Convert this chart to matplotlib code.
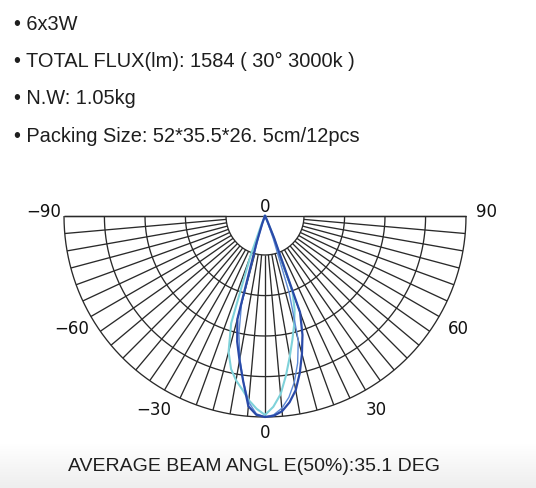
import numpy as np
import matplotlib.pyplot as plt
from matplotlib.colors import LinearSegmentedColormap

W, H, DPI = 536, 489, 100

# spec text
spec_lines = [
    "6x3W",
    "TOTAL FLUX(lm): 1584 ( 30° 3000k )",
    "N.W: 1.05kg",
    "Packing Size: 52*35.5*26. 5cm/12pcs",
]
caption = "AVERAGE BEAM ANGL E(50%):35.1 DEG"

# polar grid
ring_levels = [0.194, 0.396, 0.597, 0.799, 1.0]
spoke_angles = np.arange(-90, 91, 5)
label_angles = [-90, -60, -30, 0, 30, 60, 90]

# light distribution, relative intensity vs angle (deg, 0 = straight down)
angles = [-30, -27.5, -25, -22.5, -20, -17.5, -15, -12.5, -10, -7.5, -5, -2.5, 0,
          2.5, 5, 7.5, 10, 12.5, 15, 17.5, 20, 22.5, 25, 27.5, 30]
c0 = [0, 0, 0, 0.01, 0.04, 0.14, 0.53, 0.64, 0.73, 0.83, 0.95, 0.99, 1.0,
      0.995, 0.975, 0.935, 0.88, 0.80, 0.71, 0.62, 0.51, 0.12, 0.03, 0.01, 0]
c45 = [0, 0, 0, 0.01, 0.03, 0.10, 0.45, 0.60, 0.72, 0.83, 0.93, 0.985, 1.0,
       0.99, 0.96, 0.91, 0.84, 0.75, 0.64, 0.40, 0.12, 0.03, 0.01, 0, 0]
c90 = [0, 0, 0.01, 0.05, 0.21, 0.56, 0.70, 0.78, 0.83, 0.87, 0.92, 0.96, 0.99,
       0.95, 0.89, 0.80, 0.71, 0.63, 0.56, 0.49, 0.40, 0.10, 0.02, 0, 0]
curves = [(c90, "#7fd2da", 1.5), (c45, "#5d8ad6", 1.0), (c0, "#2a4aa8", 1.6)]


def to_xy(theta_deg, r):
    t = np.radians(np.asarray(theta_deg, dtype=float))
    r = np.asarray(r, dtype=float)
    return r * np.sin(t), -r * np.cos(t)


fig = plt.figure(figsize=(W / DPI, H / DPI), dpi=DPI)

# soft grey fade at the bottom of the page
bg = fig.add_axes([0, 0, 1, 0.09])
fade = LinearSegmentedColormap.from_list("fade", ["#eeeeee", "#ffffff"])
bg.imshow(np.linspace(0, 1, 50)[:, None], aspect="auto", cmap=fade, origin="lower")
bg.axis("off")

for i, line in enumerate(spec_lines):
    fig.text(14 / W, 1 - (24 + 37.5 * i) / H, "\u2022 " + line, va="center", ha="left",
             fontsize=14.4, family="Liberation Sans", color="#1e1e1e")

fig.text(254 / W, 1 - 467 / H, caption, va="center", ha="center",
         fontsize=14, family="Liberation Sans", color="#1e1e1e")

# diagram: centre at top middle, radius 1
ax = fig.add_axes([64 / W, 71 / H, 402 / W, 201 / H])
ax.set_xlim(-1, 1)
ax.set_ylim(-1, 0)
ax.axis("off")

grid_kw = dict(color="#2a2a2a", lw=0.95, solid_capstyle="butt", clip_on=False)
th = np.linspace(-90, 90, 361)
for lv in ring_levels:
    x, y = to_xy(th, np.full_like(th, lv))
    ax.plot(x, y, **grid_kw)
for a in spoke_angles:
    x, y = to_xy([a, a], [ring_levels[0], 1.0])
    ax.plot(x, y, **grid_kw)
ax.plot([-1, 1], [0, 0], **grid_kw)

for vals, col, lw in curves:
    x, y = to_xy(angles, vals)
    ax.plot(x, y, color=col, lw=lw, clip_on=False, solid_joinstyle="round")

lab_kw = dict(ha="center", va="center", fontsize=12, color="#111111")
for a in label_angles:
    txt = str(a).replace("-", "\u2212")
    if a == 0:
        ax.text(0, 0.005, txt, ha="center", va="bottom", fontsize=12, color="#111111")
        x, y = to_xy(a, 1.075)
    elif abs(a) == 90:
        x, y = to_xy(a, 1.1)
        y = y + 0.025
    else:
        x, y = to_xy(a, 1.11)
    ax.text(x, y, txt, **lab_kw)

fig.savefig("out.png", dpi=DPI, facecolor="white")
